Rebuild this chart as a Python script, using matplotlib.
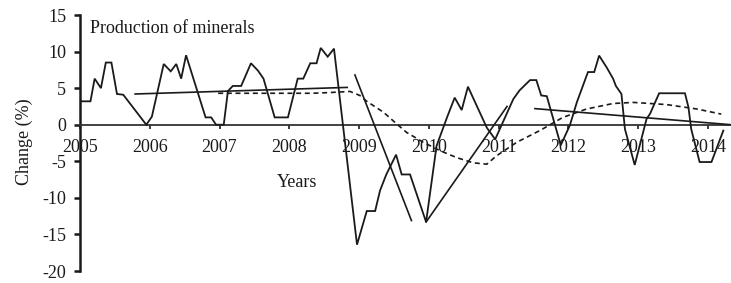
import matplotlib
matplotlib.use("Agg")
import matplotlib.pyplot as plt

plt.rcParams['font.family'] = ['Liberation Serif', 'DejaVu Serif']

# Main monthly series (year, % change)
years = [2005.00, 2005.15, 2005.21, 2005.30, 2005.37, 2005.45, 2005.53, 2005.62,
         2005.95, 2006.03, 2006.20, 2006.30, 2006.38, 2006.45, 2006.52, 2006.80,
         2006.88, 2006.95, 2007.06, 2007.12, 2007.19, 2007.31, 2007.45, 2007.55,
         2007.63, 2007.79, 2007.98, 2008.12, 2008.20, 2008.30, 2008.39, 2008.45,
         2008.55, 2008.64, 2008.97, 2009.11, 2009.23, 2009.30, 2009.39, 2009.53,
         2009.61, 2009.73, 2009.96, 2010.11, 2010.26, 2010.37, 2010.47, 2010.56,
         2010.83, 2010.95, 2011.21, 2011.30, 2011.45, 2011.54, 2011.61, 2011.69,
         2011.89, 2012.02, 2012.12, 2012.28, 2012.37, 2012.44, 2012.55, 2012.64,
         2012.68, 2012.76, 2012.81, 2012.95, 2013.12, 2013.17, 2013.30, 2013.67,
         2013.72, 2013.76, 2013.88, 2014.05, 2014.22]
values = [3.2, 3.2, 6.3, 5.0, 8.5, 8.5, 4.2, 4.1,
          0.0, 1.1, 8.3, 7.3, 8.3, 6.3, 9.5, 1.0,
          1.0, 0.0, 0.0, 4.6, 5.3, 5.3, 8.4, 7.4,
          6.3, 1.0, 1.0, 6.3, 6.3, 8.4, 8.4, 10.5,
          9.3, 10.4, -16.4, -11.8, -11.8, -9.0, -6.8, -4.1,
          -6.8, -6.8, -13.3, -2.9, 1.0, 3.7, 2.0, 5.2,
          -0.4, -2.0, 3.5, 4.7, 6.1, 6.1, 4.0, 3.9,
          -2.8, -0.1, 3.05, 7.2, 7.2, 9.45, 7.8, 6.3,
          5.3, 4.2, -0.6, -5.5, 0.8, 1.5, 4.3, 4.3,
          2.4, -0.6, -5.1, -5.1, -0.8]

# Smoothed trend (dashed)
trend_years = [2006.98, 2008.34, 2008.58, 2008.87, 2009.01, 2009.11, 2009.35,
               2009.54, 2009.68, 2009.92, 2010.16, 2010.40, 2010.63, 2010.83,
               2010.97, 2011.26, 2011.59, 2011.92, 2012.26, 2012.64, 2012.93,
               2013.41, 2013.84, 2014.19]
trend_values = [4.3, 4.3, 4.4, 4.55, 4.0, 3.2, 1.7,
                0.1, -1.05, -2.4, -3.55, -4.5, -5.2, -5.4,
                -4.25, -2.4, -0.8, 1.0, 2.15, 2.9, 3.05,
                2.75, 2.15, 1.45]

# Straight segment fits (start year, start value, end year, end value)
seg_x0 = [2005.79, 2008.94, 2009.96, 2011.52]
seg_y0 = [4.2, 6.8, -13.3, 2.2]
seg_x1 = [2008.83, 2009.75, 2011.12, 2014.33]
seg_y1 = [5.1, -13.1, 2.5, 0.0]

xticks = [2005, 2006, 2007, 2008, 2009, 2010, 2011, 2012, 2013, 2014]
yticks = [15, 10, 5, 0, -5, -10, -15, -20]

W, H = 731, 283
fig = plt.figure(figsize=(W / 100, H / 100), dpi=100)
ax = fig.add_axes([80 / W, 12 / H, (W - 80) / W, (271 - 15) / H])

col = '#1a1a1a'
ax.plot(years, values, color=col, lw=1.3, solid_joinstyle='miter', zorder=3)
ax.plot(trend_years, trend_values, color=col, lw=1.2, ls=(0, (3, 2.2)), zorder=3)
for a, b, c, d in zip(seg_x0, seg_y0, seg_x1, seg_y1):
    ax.plot([a, c], [b, d], color=col, lw=1.2, zorder=3)

ax.set_xlim(2005, 2014.33)
ax.set_ylim(-20, 15)
ax.spines['top'].set_visible(False)
ax.spines['right'].set_visible(False)
ax.spines['bottom'].set_position(('data', 0))
ax.spines['bottom'].set_linewidth(1.3)
ax.spines['left'].set_linewidth(1.8)
ax.spines['bottom'].set_color('#333333')
ax.spines['left'].set_color(col)

ax.set_xticks(xticks)
ax.set_xticklabels([str(t) for t in xticks])
ax.set_yticks(yticks)
ax.set_yticklabels([str(t) for t in yticks])
ax.tick_params(axis='x', direction='out', length=3, width=1.2, pad=7,
               labelsize=13, colors=col)
ax.tick_params(axis='y', direction='out', length=4, width=1.8, pad=6,
               labelsize=13, colors=col)
for lbl in ax.get_yticklabels():
    lbl.set_clip_on(False)

ax.text(2005.14, 13.15, 'Production of minerals', fontsize=13, ha='left',
        va='center', color=col)
ax.text(2008.11, -7.9, 'Years', fontsize=13, ha='center', va='center', color=col)
fig.text(24 / W, 1 - 142 / H, 'Change (%)', rotation=90, fontsize=13,
         ha='center', va='center', color=col)

fig.savefig('out.png', dpi=100)
